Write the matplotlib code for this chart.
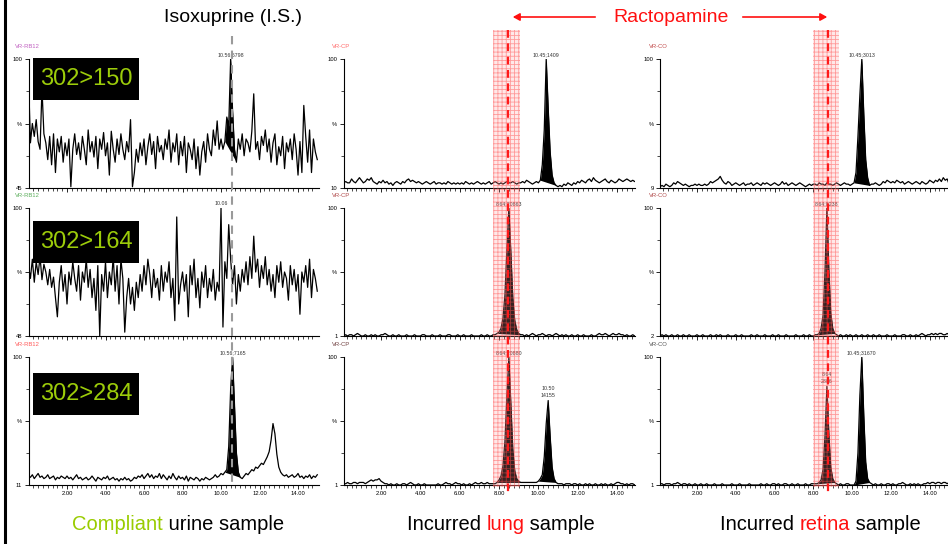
import numpy as np
import matplotlib
matplotlib.use("Agg")
import matplotlib.pyplot as plt
import matplotlib.transforms as mtransforms
from matplotlib.patches import Rectangle, FancyArrowPatch
from matplotlib.lines import Line2D

plt.rcParams['font.family'] = ['Liberation Sans', 'DejaVu Sans']
plt.rcParams['hatch.linewidth'] = 0.6

# ---------------- data ----------------
transitions = ["302>150", "302>164", "302>284"]
trace_names = [["VR-RB12", "VR-RB12", "VR-RB12"],
               ["VR-CP", "VR-CP", "VR-CP"],
               ["VR-CO", "VR-CO", "VR-CO"]]
trace_colors = [["#c060c0", "#5cae5c", "#ff5a5a"],
                ["#ff6a6a", "#b04848", "#704040"],
                ["#c04848", "#b04848", "#505050"]]
bottom_labels = [["45", "48", "11"], ["10", "1", "1"], ["9", "2", "1"]]

# scan times (min)
t_urine = np.round(np.arange(0.0, 15.05, 0.1), 2)   # 151 scans
t_tissue = np.round(np.arange(0.1, 15.05, 0.1), 2)  # 150 scans

# compliant urine, relative intensity (%)
urine_150 = [86, 35, 50, 40, 53, 36, 30, 77, 42, 35,
             22, 40, 18, 42, 12, 38, 28, 40, 20, 35,
             25, 38, 1, 30, 42, 26, 35, 22, 40, 30,
             18, 45, 28, 36, 24, 40, 15, 38, 30, 43,
             25, 35, 10, 44, 30, 20, 38, 26, 42, 30,
             22, 36, 28, 53, 1, 12, 30, 20, 35, 25,
             38, 18, 32, 42, 26, 36, 15, 40, 28, 33,
             22, 38, 30, 45, 20, 35, 28, 42, 18, 36,
             25, 40, 12, 35, 30, 22, 38, 15, 32, 10,
             28, 36, 20, 42, 30, 25, 45, 33, 52, 30,
             38, 30, 36, 55, 48, 100, 60, 30, 20, 38,
             30, 42, 25, 38, 35, 28, 44, 73, 30, 36,
             22, 40, 33, 45, 28, 38, 20, 35, 42, 18,
             32, 25, 40, 15, 35, 28, 38, 22, 42, 30,
             10, 36, 12, 64, 40, 20, 45, 12, 38, 28,
             22]
urine_164 = [55, 45, 60, 42, 58, 48, 62, 44, 56, 50,
             40, 52, 38, 46, 30, 15, 42, 55, 35, 48,
             25, 50, 40, 58, 45, 35, 55, 28, 50, 42,
             60, 38, 52, 30, 45, 20, 55, 0, 48, 35,
             58, 30, 50, 40, 62, 35, 55, 25, 60, 45,
             3, 30, 45, 25, 38, 20, 42, 30, 48, 35,
             55, 40, 60, 48, 30, 52, 38, 45, 28, 55,
             35, 50, 42, 58, 30, 45, 12, 93, 25, 40,
             50, 35, 48, 15, 55, 40, 60, 30, 45, 22,
             50, 38, 55, 30, 45, 35, 52, 28, 42, 35,
             100, 7, 58, 45, 87, 60, 40, 55, 25, 48,
             35, 52, 42, 58, 40, 62, 45, 78, 50, 60,
             38, 55, 45, 62, 40, 52, 35, 48, 30, 55,
             42, 58, 38, 50, 45, 28, 55, 40, 52, 35,
             48, 17, 50, 42, 55, 38, 60, 30, 52, 45,
             35]
urine_284 = [7, 6, 8, 5, 7, 9, 6, 7, 5, 6,
             8, 5, 6, 7, 4, 6, 5, 7, 6, 5,
             7, 5, 6, 4, 6, 8, 5, 6, 4, 5,
             6, 4, 5, 7, 5, 3, 6, 5, 4, 6,
             5, 7, 4, 5, 6, 4, 5, 3, 5, 4,
             6, 4, 5, 3, 4, 6, 5, 7, 6, 8,
             5, 7, 9, 6, 8, 5, 7, 6, 9, 5,
             8, 6, 4, 7, 5, 9, 6, 4, 7, 5,
             6, 4, 7, 3, 6, 5, 4, 6, 5, 3,
             5, 4, 6, 5, 4, 5, 6, 8, 6, 7,
             9, 8, 10, 12, 30, 75, 100, 62, 25, 10,
             6, 5, 7, 9, 8, 10, 12, 11, 14, 13,
             15, 17, 16, 19, 22, 26, 35, 48, 40, 24,
             14, 10, 8, 7, 8, 6, 7, 8, 6, 7,
             9, 6, 7, 5, 7, 6, 8, 5, 7, 6,
             8]

# incurred lung
lung_150 = [4, 5, 4, 4, 7, 5, 4, 6, 8, 6,
            4, 5, 7, 6, 8, 5, 4, 3, 5, 4,
            6, 4, 5, 3, 4, 2, 4, 5, 4, 3,
            5, 4, 6, 7, 5, 6, 5, 4, 5, 4,
            3, 4, 5, 4, 3, 4, 5, 3, 4, 4,
            3, 4, 3, 5, 4, 3, 4, 3, 4, 3,
            4, 3, 5, 4, 3, 4, 3, 4, 5, 4,
            3, 4, 3, 4, 5, 3, 4, 5, 4, 3,
            4, 3, 4, 5, 4, 4, 5, 4, 3, 4,
            4, 5, 4, 6, 5, 4, 3, 4, 5, 4,
            6, 18, 45, 100, 62, 28, 10, 4, 2, 1,
            2, 1, 3, 2, 4, 3, 2, 4, 3, 5,
            4, 6, 5, 4, 6, 7, 5, 8, 6, 5,
            4, 5, 6, 7, 5, 4, 6, 5, 4, 5,
            7, 6, 5, 6, 7, 6, 5, 6, 5, 5]
lung_164 = [0, 1, 0, 1, 1, 0, 1, 2, 1, 0,
            0, 1, 0, 0, 1, 0, 1, 0, 0, 1,
            1, 2, 1, 0, 0, 1, 0, 0, 1, 0,
            0, 0, 1, 0, 0, 0, 1, 0, 0, 0,
            1, 1, 0, 0, 0, 1, 0, 0, 0, 1,
            0, 0, 0, 1, 1, 0, 0, 0, 1, 0,
            0, 1, 0, 0, 0, 1, 0, 0, 0, 0,
            1, 0, 0, 1, 0, 0, 1, 1, 2, 3,
            6, 14, 32, 68, 100, 66, 30, 12, 5, 2,
            1, 1, 0, 1, 0, 1, 2, 1, 0, 1,
            1, 2, 1, 0, 1, 1, 0, 1, 2, 1,
            0, 1, 0, 1, 0, 0, 1, 0, 0, 1,
            0, 0, 1, 0, 0, 0, 1, 0, 0, 1,
            2, 1, 1, 2, 1, 0, 1, 2, 1, 1,
            2, 1, 1, 0, 1, 0, 0, 1, 0, 0]
lung_284 = [1, 1, 2, 1, 1, 2, 2, 1, 2, 2,
            2, 1, 2, 3, 4, 3, 4, 4, 5, 3,
            2, 1, 1, 0, 1, 0, 0, 1, 0, 0,
            1, 1, 0, 1, 2, 1, 0, 0, 1, 0,
            0, 1, 0, 0, 0, 0, 0, 0, 1, 0,
            0, 1, 2, 1, 1, 0, 1, 2, 1, 1,
            0, 1, 0, 0, 1, 0, 1, 2, 1, 1,
            2, 1, 1, 2, 1, 1, 1, 1, 2, 4,
            7, 15, 34, 70, 100, 64, 28, 11, 5, 3,
            2, 2, 2, 2, 2, 2, 2, 2, 2, 3,
            5, 8, 22, 48, 66, 38, 14, 5, 2, 1,
            1, 1, 0, 1, 1, 1, 0, 1, 1, 0,
            1, 0, 0, 1, 0, 1, 0, 0, 1, 0,
            0, 1, 0, 1, 0, 0, 1, 0, 1, 2,
            2, 1, 1, 0, 1, 0, 1, 1, 0, 1]

# incurred retina
retina_150 = [1, 2, 1, 3, 2, 1, 2, 4, 3, 5,
              4, 3, 2, 3, 2, 1, 2, 2, 3, 2,
              3, 2, 2, 3, 2, 3, 5, 4, 5, 6,
              7, 9, 6, 4, 3, 5, 4, 2, 3, 4,
              3, 2, 3, 4, 2, 3, 3, 4, 2, 3,
              4, 3, 2, 4, 3, 4, 3, 2, 3, 4,
              3, 2, 3, 5, 3, 4, 2, 3, 4, 3,
              2, 3, 4, 3, 2, 1, 2, 3, 2, 3,
              3, 2, 4, 3, 3, 2, 4, 3, 3, 2,
              3, 4, 3, 2, 3, 4, 3, 3, 2, 3,
              4, 12, 40, 72, 100, 58, 22, 8, 2, 3,
              3, 4, 3, 2, 3, 5, 4, 6, 5, 4,
              5, 4, 6, 5, 4, 5, 3, 4, 5, 4,
              3, 4, 5, 4, 3, 5, 4, 3, 4, 6,
              5, 4, 6, 5, 7, 5, 8, 6, 7, 3]
retina_164 = [0, 1, 0, 1, 0, 0, 1, 0, 0, 1,
              0, 0, 1, 0, 0, 1, 0, 0, 0, 1,
              0, 0, 1, 0, 0, 0, 1, 0, 0, 1,
              0, 1, 0, 0, 0, 1, 0, 0, 0, 1,
              0, 0, 1, 0, 0, 0, 0, 1, 0, 0,
              1, 0, 0, 0, 1, 0, 0, 0, 1, 0,
              0, 1, 0, 0, 0, 1, 0, 0, 0, 0,
              1, 0, 0, 0, 1, 0, 0, 1, 0, 0,
              1, 1, 2, 6, 16, 50, 100, 52, 18, 6,
              2, 1, 0, 1, 0, 0, 1, 0, 1, 0,
              0, 1, 0, 0, 1, 0, 0, 1, 0, 0,
              1, 0, 0, 1, 0, 0, 0, 1, 0, 0,
              0, 1, 0, 0, 0, 1, 1, 0, 0, 1,
              0, 0, 1, 0, 1, 2, 1, 0, 1, 1,
              2, 1, 2, 1, 2, 2, 1, 1, 2, 1]
retina_284 = [1, 1, 0, 1, 1, 1, 0, 1, 1, 2,
              1, 0, 1, 1, 0, 1, 0, 0, 1, 0,
              0, 1, 0, 0, 1, 0, 0, 0, 1, 0,
              0, 0, 1, 0, 0, 0, 0, 1, 0, 0,
              0, 1, 0, 0, 0, 0, 1, 0, 0, 0,
              0, 0, 1, 0, 0, 1, 0, 0, 1, 1,
              0, 1, 0, 0, 1, 1, 0, 0, 1, 0,
              0, 1, 0, 0, 0, 1, 0, 0, 1, 1,
              1, 1, 2, 4, 12, 38, 77, 40, 14, 5,
              2, 1, 0, 1, 0, 0, 1, 1, 0, 0,
              0, 3, 25, 70, 100, 55, 18, 5, 2, 1,
              0, 1, 0, 0, 1, 0, 0, 1, 1, 0,
              1, 0, 0, 1, 1, 2, 1, 0, 0, 1,
              0, 1, 0, 1, 0, 0, 1, 1, 2, 1,
              2, 2, 1, 2, 2, 1, 2, 2, 1, 2]

traces = [[urine_150, urine_164, urine_284],
          [lung_150, lung_164, lung_284],
          [retina_150, retina_164, retina_284]]
times = [t_urine, t_tissue, t_tissue]

# integrated peak windows (min)
peak_windows = [[[(10.2, 10.8)], [], [(10.2, 11.0)]],
                [[(10.1, 10.9)], [(7.9, 9.1)], [(7.9, 9.1), (10.0, 10.9)]],
                [[(10.1, 10.9)], [(8.2, 9.1)], [(8.2, 9.1), (10.1, 10.9)]]]

# peak labels (retention time of the labelled scan, text)
peak_labels = [[[(10.5, "10.56;6798")], [(10.0, "10.06")], [(10.6, "10.56;7165")]],
               [[(10.4, "10.45;1409")], [(8.5, "8.64;20863")],
                [(8.5, "8.64;20880"), (10.5, "10.50\n14155")]],
               [[(10.5, "10.45;3013")], [(8.7, "8.64;8238")],
                [(8.7, "8.64\n2806"), (10.5, "10.45;31670")]]]

is_rt = 10.56                       # isoxuprine retention time
racto_windows = [(7.7, 9.05), (7.98, 9.32)]
racto_rt = [8.46, 8.74]

# ---------------- layout ----------------
W, H = 948, 544
fig = plt.figure(figsize=(W / 100, H / 100), dpi=100)

col_px = [(28.5, 290.7, (0.0, 15.1)), (343.7, 291.0, (0.1, 14.9)), (660.1, 289.0, (0.1, 15.0))]
row_px = [(59, 188), (208, 336), (357, 485)]

axes = [[None] * 3 for _ in range(3)]
for c in range(3):
    x0, w, xlim = col_px[c]
    t = times[c]
    for r in range(3):
        yt, yb = row_px[r]
        ax = fig.add_axes([x0 / W, 1 - yb / H, w / W, (yb - yt) / H])
        axes[c][r] = ax
        y = np.array(traces[c][r], dtype=float)
        ax.plot(t, y, color="black", lw=0.9)
        for (a, b) in peak_windows[c][r]:
            m = (t >= a - 1e-6) & (t <= b + 1e-6)
            base = np.interp(t[m], [t[m][0], t[m][-1]], [y[m][0], y[m][-1]])
            ax.fill_between(t[m], y[m], base, color="black", lw=0)
        for (pt, txt) in peak_labels[c][r]:
            py = y[np.argmin(np.abs(t - pt))]
            ax.annotate(txt, (pt, py), xytext=(0, 1.5), textcoords="offset points",
                        ha="center", va="bottom", fontsize=3.8, color="#333333",
                        linespacing=1.6, zorder=20)

        ax.set_xlim(*xlim)
        ax.set_ylim(0, 100)
        for s in ["top", "right"]:
            ax.spines[s].set_visible(False)
        ax.spines["left"].set_linewidth(0.8)
        ax.spines["bottom"].set_linewidth(0.8)
        ax.set_xticks([2, 4, 6, 8, 10, 12, 14])
        ax.set_xticks(np.arange(0.25, 15.0, 0.25), minor=True)
        if r == 2:
            ax.set_xticklabels(["2.00", "4.00", "6.00", "8.00", "10.00", "12.00", "14.00"])
        else:
            ax.set_xticklabels([])
        ax.set_yticks([0, 50, 100])
        ax.set_yticks([25, 75], minor=True)
        ax.set_yticklabels([bottom_labels[c][r], "%", "100"])
        ax.tick_params(axis="both", which="major", length=3, width=0.6, labelsize=4.2, pad=1.5)
        ax.tick_params(axis="both", which="minor", length=2, width=0.5)
        ax.patch.set_alpha(0)
        ax.text(-0.045 if c == 0 else -0.04, 1.08, trace_names[c][r], transform=ax.transAxes,
                fontsize=4.2, color=trace_colors[c][r], ha="left", va="bottom")

# transition boxes (urine column)
box_tops = [58, 221, 373]
for r in range(3):
    bt = box_tops[r]
    fig.add_artist(Rectangle((33 / W, 1 - (bt + 42) / H), 106 / W, 42 / H,
                             transform=fig.transFigure, fc="black", ec="none", zorder=15))
    fig.text(86 / W, 1 - (bt + 21) / H, transitions[r], fontsize=17,
             color="#9ccc0a", ha="center", va="center", zorder=16)

# isoxuprine retention line
blend = mtransforms.blended_transform_factory(axes[0][0].transData, fig.transFigure)
fig.add_artist(Line2D([is_rt, is_rt], [1 - 36 / H, 1 - 486 / H], transform=blend,
                      color="#9a9a9a", lw=1.5, ls=(0, (4, 3)), zorder=10))

# ractopamine windows
for k, c in enumerate([1, 2]):
    blend = mtransforms.blended_transform_factory(axes[c][0].transData, fig.transFigure)
    a, b = racto_windows[k]
    fig.add_artist(Rectangle((a, 1 - 487 / H), b - a, (487 - 30) / H, transform=blend,
                             facecolor=(1, 0.6, 0.6, 0.22), edgecolor=(1, 0.3, 0.3, 0.5),
                             hatch="++++", lw=0, zorder=11))
    fig.add_artist(Line2D([racto_rt[k], racto_rt[k]], [1 - 30 / H, 1 - 494 / H], transform=blend,
                          color="#ff1a1a", lw=1.6, ls=(0, (3.5, 2.5)), zorder=12))

# headers
fig.text(233 / W, 1 - 17 / H, "Isoxuprine (I.S.)", fontsize=14, ha="center", va="center")
fig.text(671 / W, 1 - 17 / H, "Ractopamine", fontsize=14, color="#ff1010", ha="center", va="center")
for p0, p1 in [((598, 17), (510, 17)), ((740, 17), (830, 17))]:
    fig.add_artist(FancyArrowPatch((p0[0] / W, 1 - p0[1] / H), (p1[0] / W, 1 - p1[1] / H),
                                   transform=fig.transFigure,
                                   arrowstyle="-|>,head_length=4,head_width=2.2",
                                   color="#ff1010", lw=1.2))

# sample captions
cap_y = 1 - 525 / H
def caption(xc, parts):
    txt = fig.text(0, cap_y, "".join(p for p, _ in parts), fontsize=14.5, va="center")
    fig.canvas.draw()
    total = txt.get_window_extent().width
    txt.remove()
    x = xc - total / 2
    for p, col in parts:
        t_ = fig.text(x / W, cap_y, p, fontsize=14.5, color=col, va="center", ha="left")
        x += t_.get_window_extent().width

caption(178, [("Compliant", "#99cc00"), (" urine sample", "black")])
caption(501, [("Incurred ", "black"), ("lung", "#ff1010"), (" sample", "black")])
caption(820, [("Incurred ", "black"), ("retina", "#ff1010"), (" sample", "black")])

# left frame line
fig.add_artist(Line2D([4.5 / W, 4.5 / W], [0, 1], transform=fig.transFigure, color="black", lw=2.2))

fig.savefig("out.png", dpi=100)
